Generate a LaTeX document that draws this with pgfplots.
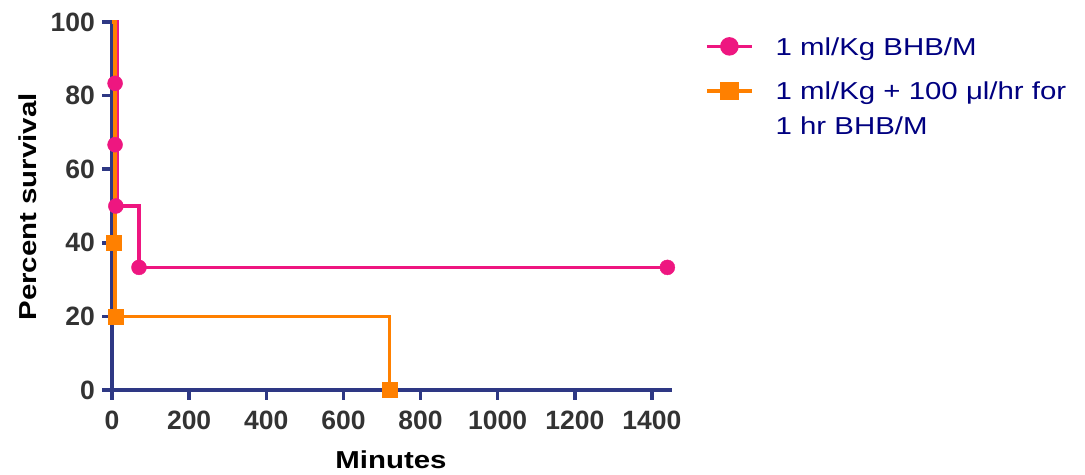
\documentclass[border=0pt]{standalone}
\usepackage{pgfplots}
\pgfplotsset{compat=1.18}
\usepackage{fontspec}
\setmainfont{Liberation Sans}
\newfontfamily\widefont[FakeStretch=1.2]{Liberation Sans}
\definecolor{pinkc}{RGB}{238,22,128}
\definecolor{orangec}{RGB}{255,128,0}
\definecolor{axisblue}{RGB}{46,56,132}
\definecolor{tickgray}{RGB}{51,51,51}
\definecolor{legendblue}{RGB}{0,0,128}
\begin{document}
\begin{tikzpicture}
\begin{axis}[
  scale only axis, width=570bp, height=378bp,
  xmin=-26, xmax=1452, ymin=-2.7, ymax=100,
  axis lines=none,
  xtick={0,200,...,1400}, ytick={0,20,...,100},
  clip=false,
  legend cell align=left,
  legend image code/.code={\draw[mark repeat=2,mark phase=2,#1,yshift=8.8bp] plot coordinates {(0bp,0bp)(22.5bp,0bp)(45bp,0bp)};},
  legend style={at={(rel axis cs:1.0526,0.965)}, anchor=north west, draw=none, fill=none,
    font=\widefont\fontsize{24.5bp}{35bp}\selectfont, text=legendblue,
    row sep=20bp, cells={anchor=base west}, nodes={inner sep=0pt, text depth=0pt},
    /tikz/every odd column/.append style={column sep=22bp}},
]
\addlegendimage{pinkc, line width=3.5bp, mark=*, mark size=7.5bp, mark options={solid}}
\addlegendentry{1 ml/Kg BHB/M}
\addlegendimage{orangec, line width=3.5bp, mark=square*, mark size=7.5bp, mark options={solid}}
\addlegendentry{\begin{tabular}[t]{@{}l@{}}1 ml/Kg + 100 μl/hr for\\1 hr BHB/M\end{tabular}}

% Prism-style offset axis lines, ticks and tick labels
\fill[axisblue] ([yshift=1.75bp]axis cs:-26,0) rectangle ([yshift=-1.75bp]axis cs:1452,0);
\fill[axisblue] ([xshift=-1.75bp]axis cs:0,-2.7) rectangle ([xshift=1.75bp]axis cs:0,100);
\pgfplotsinvokeforeach{0,200,400,600,800,1000,1200,1400}{
  \fill[axisblue] ([xshift=-1.75bp]axis cs:#1,0) rectangle ([xshift=1.75bp,yshift=-10bp]axis cs:#1,0);
  \node[anchor=north, inner sep=2bp, text=tickgray, font=\fontsize{26.5bp}{30bp}\selectfont\bfseries] at ([yshift=-19bp]axis cs:#1,0) {#1};
}
\pgfplotsinvokeforeach{0,20,40,60,80,100}{
  \fill[axisblue] ([yshift=-1.75bp]axis cs:0,#1) rectangle ([yshift=1.75bp,xshift=-10bp]axis cs:0,#1);
  \node[anchor=east, inner sep=2bp, text=tickgray, font=\fontsize{26.5bp}{30bp}\selectfont\bfseries] at ([xshift=-15bp]axis cs:0,#1) {#1};
}
\node[font=\widefont\fontsize{24.5bp}{28bp}\selectfont\bfseries] at (rel axis cs:0.507,-0.1587) {Minutes};
\node[rotate=90, font=\widefont\fontsize{24.5bp}{28bp}\selectfont\bfseries] at (rel axis cs:-0.13,0.5106) {Percent survival};

\addplot[pinkc, line width=3.5bp, forget plot] coordinates {(0,100) (13,100) (13,50) (70,50) (70,33.33) (1440,33.33)};
\addplot[orangec, line width=3.5bp, forget plot] coordinates {(0,100) (8,100) (8,20) (720,20) (720,0)};
\addplot[pinkc, only marks, mark=*, mark size=7.5bp, forget plot] coordinates {(8,83.33) (8,66.67) (10,50) (70,33.33) (1440,33.33)};
\addplot[orangec, only marks, mark=square*, mark size=7.5bp, forget plot] coordinates {(4,40) (10,20) (720,0)};

\coordinate (bl) at (rel axis cs:-0.1789,-0.1984);
\coordinate (tr) at (rel axis cs:1.7246,1.0582);
\end{axis}
\pgfresetboundingbox
\useasboundingbox (bl) rectangle (tr);
\end{tikzpicture}
\end{document}
